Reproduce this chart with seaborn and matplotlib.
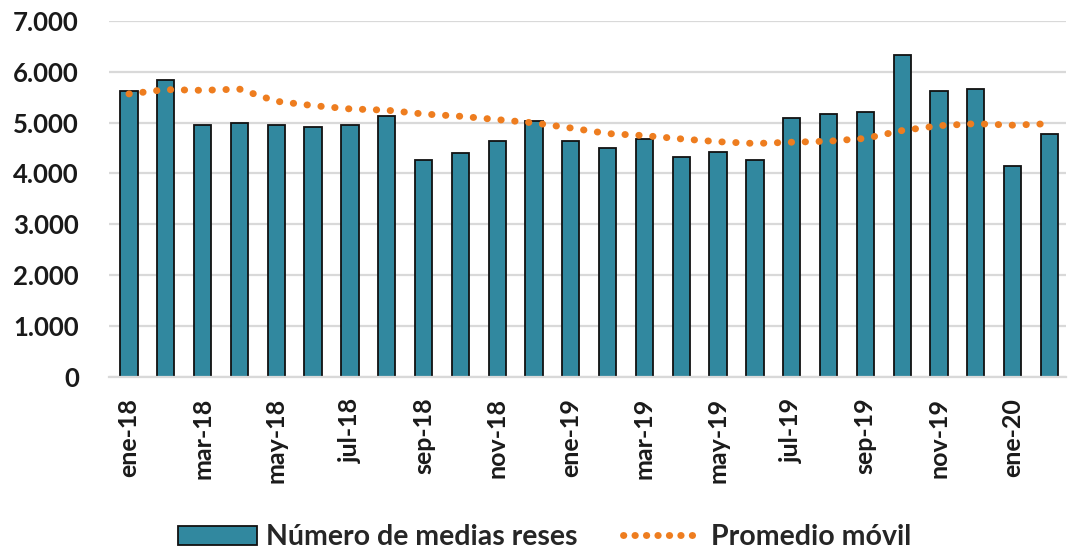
import matplotlib
matplotlib.use("Agg")
import matplotlib.pyplot as plt
import seaborn as sns
import pandas as pd
from matplotlib.ticker import FuncFormatter
from matplotlib.patches import Patch
from matplotlib.lines import Line2D

months = ["ene-18", "feb-18", "mar-18", "abr-18", "may-18", "jun-18", "jul-18", "ago-18",
          "sep-18", "oct-18", "nov-18", "dic-18", "ene-19", "feb-19", "mar-19", "abr-19",
          "may-19", "jun-19", "jul-19", "ago-19", "sep-19", "oct-19", "nov-19", "dic-19",
          "ene-20", "feb-20"]
medias_reses = [5620, 5845, 4950, 4995, 4950, 4910, 4950, 5125, 4275, 4410, 4635, 5040,
                4630, 4500, 4680, 4320, 4420, 4275, 5085, 5170, 5210, 6335, 5620, 5660,
                4150, 4770]
promedio_movil = [5565, 5650, 5635, 5660, 5420, 5335, 5270, 5245, 5170, 5125, 5060, 4995,
                  4895, 4785, 4745, 4680, 4625, 4590, 4615, 4635, 4690, 4845, 4940, 4980,
                  4950, 4980]
y_ticks = [0, 1000, 2000, 3000, 4000, 5000, 6000, 7000]

bar_color = "#31889F"
line_color = "#EE7D1F"

sns.set_theme(style="white")
plt.rcParams["font.family"] = ["Lato", "DejaVu Sans"]
plt.rcParams["font.weight"] = "bold"

df = pd.DataFrame({"mes": months, "valor": medias_reses, "prom": promedio_movil})

fig = plt.figure(figsize=(10.70, 5.51), dpi=100)
ax = fig.add_axes([0.1023, 0.316, 0.894, 0.646])

sns.barplot(data=df, x="mes", y="valor", color=bar_color, width=0.47, saturation=1,
            edgecolor="#111111", linewidth=1.3, ax=ax, zorder=2)
sns.lineplot(data=df, x="mes", y="prom", sort=False, color=line_color, linewidth=5,
             ax=ax, zorder=3, dashes=False)
for ln in ax.lines:
    ln.set_linestyle((0, (0.05, 1.95)))
    ln.set_dash_capstyle("round")

ax.set_ylim(0, 7000)
ax.set_xlim(-0.53, 25.45)
ax.set_yticks(y_ticks)
ax.yaxis.set_major_formatter(FuncFormatter(lambda v, p: f"{int(v):,}".replace(",", ".")))
ax.set_xticks(range(0, len(months), 2))
ax.set_xticklabels(months[::2], rotation=90, fontsize=18, fontweight="bold", color="#1a1a1a")
ax.tick_params(axis="y", labelsize=18.5, labelcolor="#1a1a1a", length=0, pad=22)
ax.tick_params(axis="x", length=0, pad=15)
for lbl in ax.get_yticklabels():
    lbl.set_fontweight("bold")

ax.grid(axis="y", color="#D9D9D9", linewidth=1.6, zorder=0)
ax.set_axisbelow(True)
for s in ["top", "left", "right"]:
    ax.spines[s].set_visible(False)
ax.spines["bottom"].set_color("#D9D9D9")
ax.spines["bottom"].set_linewidth(1.6)
ax.set_xlabel("")
ax.set_ylabel("")

handles = [Patch(facecolor=bar_color, edgecolor="#111111", linewidth=1.3),
           Line2D([], [], color=line_color, linewidth=5, linestyle=(0, (0.05, 1.6)),
                  dash_capstyle="round")]
fig.legend(handles, ["Número de medias reses", "Promedio móvil"], loc="center",
           bbox_to_anchor=(0.509, 0.025), ncol=2, frameon=False,
           prop={"size": 20.5, "weight": "bold"}, handlelength=2.8, handleheight=0.65,
           columnspacing=1.6, handletextpad=0.3)

fig.savefig("out.png", dpi=100, facecolor="white")
